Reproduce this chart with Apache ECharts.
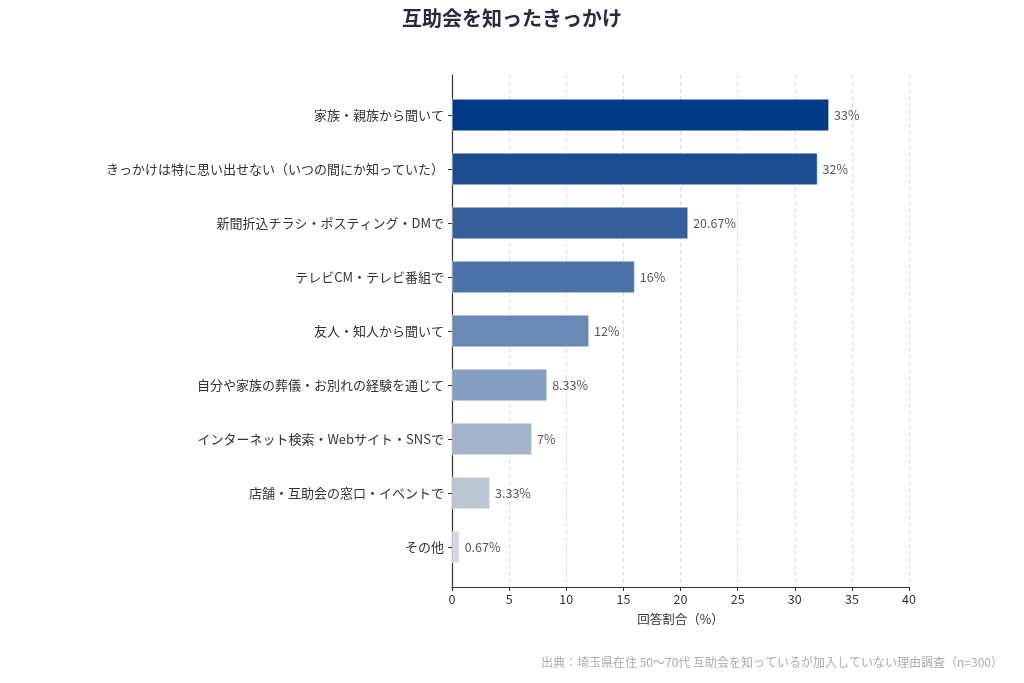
<!DOCTYPE html>
<html>
<head>
<meta charset="utf-8">
<script src="https://cdn.jsdelivr.net/npm/echarts@6/dist/echarts.min.js"></script>
<style>
  html, body { margin: 0; padding: 0; background: #fff; }
  #chart { width: 1024px; height: 683px; }
</style>
</head>
<body>
<div id="chart"></div>
<script>
// データ
var categories = [
    '家族・親族から聞いて',
    'きっかけは特に思い出せない（いつの間にか知っていた）',
    '新聞折込チラシ・ポスティング・DMで',
    'テレビCM・テレビ番組で',
    '友人・知人から聞いて',
    '自分や家族の葬儀・お別れの経験を通じて',
    'インターネット検索・Webサイト・SNSで',
    '店舗・互助会の窓口・イベントで',
    'その他'
];
var values = [33, 32, 20.67, 16, 12, 8.33, 7, 3.33, 0.67];
var barColors = ['#003a87', '#1d4b8f', '#365f9c', '#4e73a8', '#6a89b4', '#869ec0', '#a2b3ca', '#bcc7d4', '#d3d9de'];
var xTicks = [0, 5, 10, 15, 20, 25, 30, 35, 40];

var font = '"Noto Sans CJK JP", "Noto Sans", sans-serif';
var myChart = echarts.init(document.getElementById('chart'));

var option = {
    backgroundColor: '#fff',
    textStyle: { fontFamily: font },
    title: [{
        text: '互助会を知ったきっかけ',
        left: 'center',
        top: 3,
        textStyle: { fontFamily: font, fontSize: 20, fontWeight: 'bold', color: '#262b3f' }
    }, {
        text: '出典：埼玉県在住 50〜70代 互助会を知っているが加入していない理由調査（n=300）',
        right: 16,
        top: 651,
        textStyle: { fontFamily: font, fontSize: 12, fontWeight: 'normal', color: '#aaaaaa' }
    }],
    grid: [
        // 棒グラフ用
        { left: 452, right: 115, top: 88, bottom: 109 },
        // 軸・グリッド線用
        { left: 452, right: 115, top: 75, bottom: 96 }
    ],
    xAxis: [{
        gridIndex: 0,
        type: 'value',
        min: 0,
        max: 40,
        show: false
    }, {
        gridIndex: 1,
        type: 'value',
        min: xTicks[0],
        max: xTicks[xTicks.length - 1],
        interval: 5,
        name: '回答割合（%）',
        nameLocation: 'middle',
        nameGap: 26,
        nameTextStyle: { fontFamily: font, fontSize: 12.5, color: '#333' },
        axisLine: { show: true, lineStyle: { color: '#333', width: 1.2 } },
        axisTick: { show: true, length: 4, lineStyle: { color: '#333' } },
        axisLabel: { color: '#333', fontSize: 12.5, margin: 6 },
        splitLine: { show: true, lineStyle: { color: '#dddddd', type: [4, 3], width: 1 } }
    }],
    yAxis: [{
        gridIndex: 0,
        type: 'category',
        data: categories,
        inverse: true,
        axisLine: { show: false },
        axisTick: { show: true, alignWithLabel: true, length: 4, lineStyle: { color: '#333' } },
        axisLabel: { color: '#333', fontSize: 13, margin: 8 },
        splitLine: { show: false }
    }, {
        gridIndex: 1,
        type: 'value',
        min: 0,
        max: 1,
        axisLine: { show: true, lineStyle: { color: '#333', width: 1.2 } },
        axisTick: { show: false },
        axisLabel: { show: false },
        splitLine: { show: false }
    }],
    series: [{
        type: 'bar',
        xAxisIndex: 0,
        yAxisIndex: 0,
        barWidth: '60%',
        data: values.map(function (v, i) {
            return { value: v, itemStyle: { color: barColors[i] } };
        }),
        itemStyle: { borderColor: 'rgba(255,255,255,0.6)', borderWidth: 0.8 },
        label: {
            show: true,
            position: 'right',
            distance: 5,
            color: '#555',
            fontSize: 12.5,
            formatter: function (p) { return p.value + '%'; }
        }
    }]
};

myChart.setOption(option);
window.addEventListener('resize', function () {
    myChart.resize();
});
</script>
</body>
</html>
